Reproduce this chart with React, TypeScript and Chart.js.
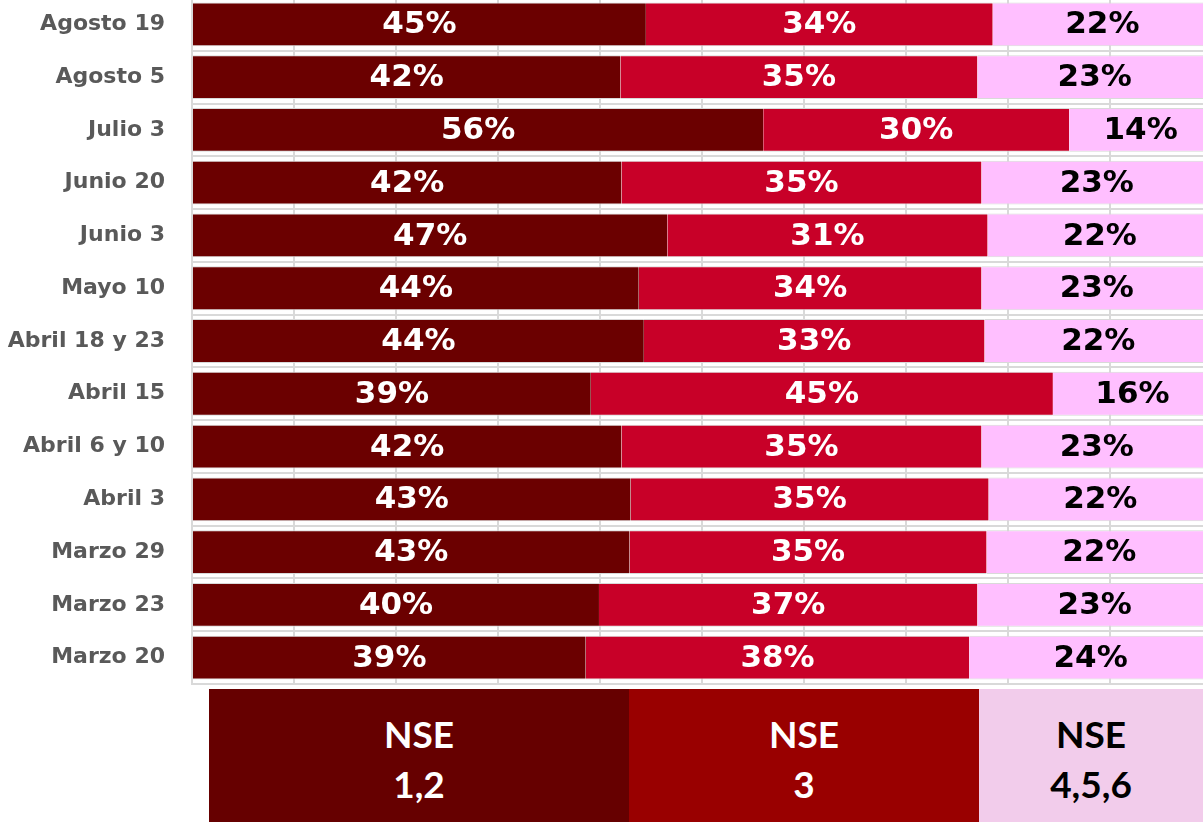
import React, { useEffect, useRef } from "react";
import { Chart, registerables } from "chart.js";

Chart.register(...registerables);

const categories = [
  "Agosto 19",
  "Agosto 5",
  "Julio 3",
  "Junio 20",
  "Junio 3",
  "Mayo 10",
  "Abril 18 y 23",
  "Abril 15",
  "Abril 6 y 10",
  "Abril 3",
  "Marzo 29",
  "Marzo 23",
  "Marzo 20",
];

const nse12 = [44.5, 42.0, 56.0, 42.1, 46.6, 43.8, 44.3, 39.1, 42.1, 43.0, 42.9, 39.9, 38.6];
const nse3 = [34.0, 35.0, 30.0, 35.3, 31.4, 33.6, 33.4, 45.3, 35.3, 35.1, 35.0, 37.1, 37.6];
const nse456 = [21.5, 23.0, 14.0, 22.6, 22.0, 22.6, 22.3, 15.6, 22.6, 21.9, 22.1, 23.0, 23.8];

const seriesNames = ["NSE 1,2", "NSE 3", "NSE 4,5,6"];
const barColors = ["#6B0000", "#C80028", "#FFBFFF"];
const labelColors = ["#FFFFFF", "#FFFFFF", "#000000"];
const legendColors = ["#660000", "#990000", "#F2CCEB"];
const legendTextColors = ["#FFFFFF", "#FFFFFF", "#000000"];

const GRID = "#D9D9D9";

const valueLabels = {
  id: "valueLabels",
  afterDatasetsDraw(chart: any) {
    const ctx = chart.ctx;
    ctx.save();
    ctx.font = "bold 31px 'DejaVu Sans'";
    ctx.textAlign = "center";
    ctx.textBaseline = "middle";
    chart.data.datasets.forEach((ds: any, di: number) => {
      const meta = chart.getDatasetMeta(di);
      meta.data.forEach((el: any, i: number) => {
        const v = ds.data[i];
        const x = (el.x + el.base) / 2;
        ctx.fillStyle = labelColors[di];
        ctx.fillText(Math.round(v) + "%", x, el.y + 1);
      });
    });
    ctx.restore();
  },
};

function BarChart() {
  const ref = useRef<HTMLCanvasElement | null>(null);
  useEffect(() => {
    if (!ref.current) return;
    const chart = new Chart(ref.current, {
      type: "bar",
      data: {
        labels: categories,
        datasets: [nse12, nse3, nse456].map((d, i) => ({
          label: seriesNames[i],
          data: d,
          backgroundColor: barColors[i],
          borderColor: GRID,
          borderWidth: { top: 1, bottom: 1, left: 0, right: 0 },
          borderSkipped: false,
          barPercentage: 0.83,
          categoryPercentage: 1,
        })),
      },
      options: {
        indexAxis: "y",
        responsive: true,
        maintainAspectRatio: false,
        animation: false,
        layout: { padding: 0 },
        plugins: {
          legend: { display: false },
          tooltip: { enabled: false },
        },
        scales: {
          x: {
            stacked: true,
            min: 0,
            max: 100,
            ticks: { display: false, stepSize: 10 },
            grid: { color: GRID, lineWidth: 2, drawTicks: false },
            border: { display: true, color: GRID, width: 2 },
            afterFit: (s: any) => {
              s.height = 2;
              s.paddingLeft = 0;
              s.paddingRight = 0;
            },
          },
          y: {
            stacked: true,
            grid: { color: GRID, lineWidth: 2, drawTicks: false, offset: true },
            border: { display: true, color: GRID, width: 2 },
            ticks: {
              color: "#595959",
              font: { family: "'DejaVu Sans'", weight: "bold", size: 22 },
              padding: 27,
            },
            afterFit: (s: any) => {
              s.width = 192;
              s.paddingTop = 0;
              s.paddingBottom = 0;
            },
          },
        },
      },
      plugins: [valueLabels],
    } as any);
    return () => chart.destroy();
  }, []);
  return <canvas ref={ref} />;
}

export default function App() {
  const lefts = [209, 629, 979];
  const widths = [420, 350, 224];
  return (
    <div
      style={{
        position: "fixed",
        left: 0,
        top: 0,
        width: 1203,
        height: 822,
        overflow: "hidden",
        background: "#FFFFFF",
      }}
    >
      <div style={{ position: "absolute", left: 0, top: -2, width: 1212, height: 688 }}>
        <BarChart />
      </div>
      {seriesNames.map((name, i) => {
        const parts = name.split(" ");
        return (
          <div
            key={name}
            style={{
              position: "absolute",
              left: lefts[i],
              top: 689,
              width: widths[i],
              height: 133,
              background: legendColors[i],
              color: legendTextColors[i],
              fontFamily: "Lato, 'Noto Sans', sans-serif",
              fontWeight: "bold",
              fontSize: 37,
              lineHeight: "50px",
              textAlign: "center",
              paddingTop: 20,
              boxSizing: "border-box",
            }}
          >
            <div>{parts[0]}</div>
            <div>{parts[1]}</div>
          </div>
        );
      })}
    </div>
  );
}
